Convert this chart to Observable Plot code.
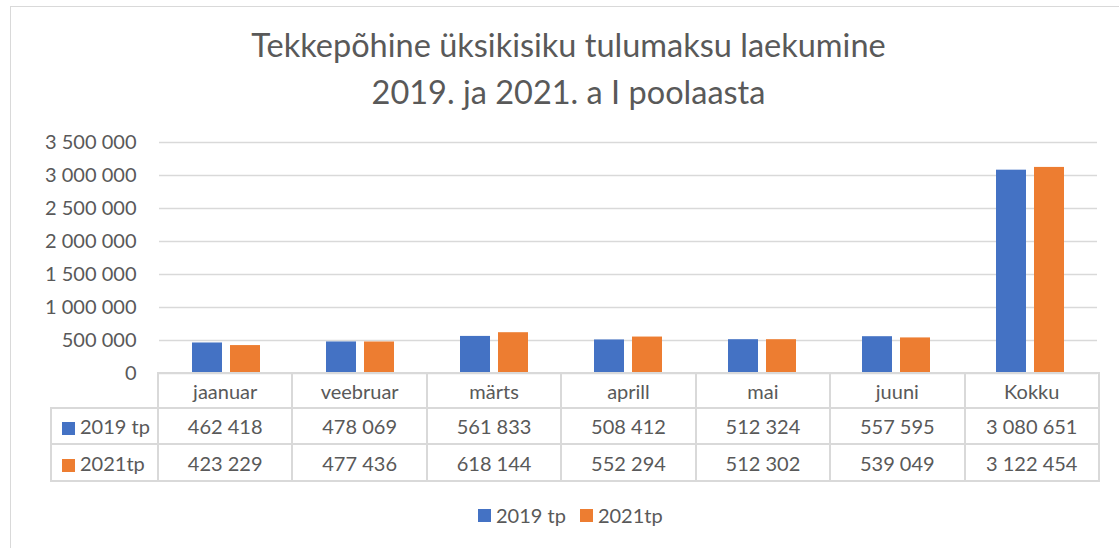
<!DOCTYPE html>
<html>
<head>
<meta charset="utf-8">
<script src="https://cdn.jsdelivr.net/npm/d3@7"></script>
<script src="https://cdn.jsdelivr.net/npm/@observablehq/plot@0.6"></script>
<style>
  html, body { margin: 0; padding: 0; background: #fff; }
  #root { position: relative; width: 1119px; height: 548px; background: #fff; overflow: hidden; font-family: Lato, "Noto Sans", sans-serif; color: #595959; }
  #frame { position: absolute; left: 10px; top: 6px; width: 1200px; height: 600px; border: 1.5px solid #d9d9d9; box-sizing: border-box; }
  .title { position: absolute; width: 1119px; text-align: center; font-weight: 400; font-size: 32.5px; color: #595959; left: 9px; white-space: nowrap; }
  #plot { position: absolute; left: 0; top: 130px; }
  #tbl { position: absolute; left: 50px; top: 372px; border-collapse: collapse; table-layout: fixed; font-size: 20px; color: #595959; }
  #tbl td { border: 2px solid #d9d9d9; text-align: center; padding: 0; white-space: nowrap; }
  #tbl td.blank { border-top: none; border-left: none; }
  #tbl td.ser { text-align: left; padding-left: 10px; }
  .sw { display: inline-block; width: 13px; height: 13px; margin-right: 5px; vertical-align: -1px; }
  #legend { position: absolute; left: 478px; top: 503px; font-size: 20px; color: #595959; display: flex; align-items: center; }
  #legend span.item { display: inline-flex; align-items: center; margin-right: 14px; }
</style>
</head>
<body>
<div id="root">
  <div id="frame"></div>
  <div class="title" style="top:25px">Tekkepõhine üksikisiku tulumaksu laekumine</div>
  <div class="title" style="top:72px">2019. ja 2021. a I poolaasta</div>
  <div id="plot"></div>
  <table id="tbl"></table>
  <div id="legend"></div>
</div>
<script>
const categories = ["jaanuar", "veebruar", "märts", "aprill", "mai", "juuni", "Kokku"];
const seriesNames = ["2019 tp", "2021tp"];
const values2019 = [462418, 478069, 561833, 508412, 512324, 557595, 3080651];
const values2021 = [423229, 477436, 618144, 552294, 512302, 539049, 3122454];
const yTicks = [0, 500000, 1000000, 1500000, 2000000, 2500000, 3000000, 3500000];
const colors = ["#4472C4", "#ED7D31"];

const locale = d3.formatLocale({decimal: ",", thousands: " ", grouping: [3], currency: ["", ""]});
const fmt = locale.format(",d");

const seriesValues = [values2019, values2021];
const rows = [];
categories.forEach((c, i) => {
  seriesNames.forEach((s, j) => rows.push({category: c, series: s, value: seriesValues[j][i]}));
});

const chart = Plot.plot({
  width: 1119,
  height: 255,
  marginLeft: 157,
  marginRight: 21,
  marginTop: 12,
  marginBottom: 12,
  style: {fontFamily: "Lato, 'Noto Sans', sans-serif", fontSize: "20px", color: "#595959", background: "transparent", overflow: "visible"},
  fx: {domain: categories, padding: 0, axis: null, label: null},
  x: {domain: seriesNames, paddingInner: 0.21, paddingOuter: 0.86, axis: null, label: null},
  y: {domain: [0, 3500000], axis: null, label: null},
  color: {domain: seriesNames, range: colors},
  marks: [
    Plot.ruleY(yTicks, {stroke: "#d9d9d9", strokeWidth: 1.5}),
    Plot.barY(rows, {fx: "category", x: "series", y: "value", fill: "series"}),
    Plot.axisY({ticks: yTicks, tickSize: 0, tickPadding: 23, tickFormat: fmt, label: null, fontSize: 20, fill: "#595959"})
  ]
});
document.getElementById("plot").appendChild(chart);

// data table under the chart
const colW = (1098 - 157) / categories.length;
const tbl = document.getElementById("tbl");
const cg = document.createElement("colgroup");
const c0 = document.createElement("col"); c0.style.width = "107px"; cg.appendChild(c0);
categories.forEach(() => { const c = document.createElement("col"); c.style.width = colW + "px"; cg.appendChild(c); });
tbl.appendChild(cg);
tbl.style.width = (107 + colW * categories.length) + "px";
const hr = document.createElement("tr"); hr.style.height = "35px";
const b = document.createElement("td"); b.className = "blank"; hr.appendChild(b);
categories.forEach(c => { const td = document.createElement("td"); td.textContent = c; hr.appendChild(td); });
tbl.appendChild(hr);
seriesNames.forEach((s, j) => {
  const tr = document.createElement("tr"); tr.style.height = (j === 0 ? 36 : 37) + "px";
  const td0 = document.createElement("td"); td0.className = "ser";
  td0.innerHTML = `<span class="sw" style="background:${colors[j]}"></span>${s}`;
  tr.appendChild(td0);
  seriesValues[j].forEach(v => { const td = document.createElement("td"); td.textContent = fmt(v); tr.appendChild(td); });
  tbl.appendChild(tr);
});

// legend
const lg = document.getElementById("legend");
seriesNames.forEach((s, j) => {
  const it = document.createElement("span"); it.className = "item";
  it.innerHTML = `<span class="sw" style="background:${colors[j]}"></span>${s}`;
  lg.appendChild(it);
});
</script>
</body>
</html>
